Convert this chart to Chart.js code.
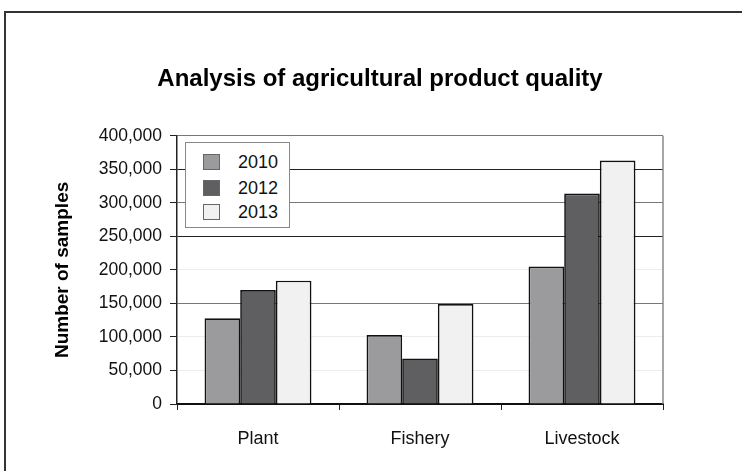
<!DOCTYPE html>
<html>
<head>
<meta charset="utf-8">
<script src="https://cdn.jsdelivr.net/npm/chart.js@4.4.0/dist/chart.umd.min.js"></script>
<style>
body{margin:0;background:#fff;}
#wrap{position:relative;width:742px;height:471px;overflow:hidden;}
#frame{position:absolute;left:4px;top:11px;width:800px;height:520px;border:2px solid #333;}
#legend{position:absolute;left:185px;top:142px;width:105px;height:86px;border:1px solid #888;background:#fff;box-sizing:border-box;font:18px 'Liberation Sans',Arial,sans-serif;color:#111;}
.item{position:absolute;left:17px;height:20px;line-height:20px;white-space:nowrap;}
.sw{position:absolute;left:0;top:2px;width:17px;height:16px;border:1px solid #666;box-sizing:border-box;}
.lbl{position:absolute;left:35px;top:0;}
</style>
</head>
<body>
<div id="wrap">
  <div id="frame"></div>
  <canvas id="myChart" width="742" height="471"></canvas>
  <div id="legend"></div>
</div>
<script>
// valores
var categories = ['Plant', 'Fishery', 'Livestock'];
var years = ['2010', '2012', '2013'];
var values2010 = [128000, 103000, 205000];
var values2012 = [170000, 68000, 314000];
var values2013 = [184000, 149000, 363000];
var yTicks = [0, 50000, 100000, 150000, 200000, 250000, 300000, 350000, 400000];
var colors = ['#9b9b9d', '#5f5f62', '#f1f1f1'];

var fonte = "'Liberation Sans', Arial, sans-serif";

graficoBarras()
montaLegenda()

function graficoBarras(){

const rightBorder = {
  id: 'rightBorder',
  beforeDatasetsDraw(chart) {
    const a = chart.chartArea;
    const ctx = chart.ctx;
    ctx.save();
    ctx.strokeStyle = '#888';
    ctx.lineWidth = 1.5;
    ctx.beginPath();
    ctx.moveTo(a.right, a.top);
    ctx.lineTo(a.right, a.bottom);
    ctx.stroke();
    ctx.restore();
  }
};

const ctx = document.getElementById('myChart').getContext('2d');
const myChart = new Chart(ctx, {
    type: 'bar',
    data: {
        labels: categories,
        datasets: [
            { label: years[0], data: values2010, backgroundColor: colors[0] },
            { label: years[1], data: values2012, backgroundColor: colors[1] },
            { label: years[2], data: values2013, backgroundColor: colors[2] }
        ]
    },
    plugins: [rightBorder],
    options: {
        responsive: false,
        animation: false,
        layout: { padding: { left: 18, right: 0, top: 0, bottom: 0 } },
        datasets: {
            bar: {
                barPercentage: 1,
                categoryPercentage: 0.66,
                borderColor: '#111',
                borderWidth: 1.7
            }
        },
        plugins: {
            legend: { display: false },
            tooltip: { enabled: false },
            title: {
                display: true,
                text: 'Analysis of agricultural product quality',
                color: '#000',
                font: { family: fonte, size: 24, weight: 'bold' },
                padding: { top: 65, bottom: 42 }
            }
        },
        scales: {
            x: {
                grid: { drawOnChartArea: false, tickLength: 6, tickColor: '#222' },
                border: { color: '#111', width: 2 },
                ticks: { color: '#111', padding: 18, font: { family: fonte, size: 18 } },
                afterFit: function(s){ s.height = 67; }
            },
            y: {
                min: 0,
                max: 400000,
                afterBuildTicks: function(s){ s.ticks = yTicks.map(function(v){ return { value: v }; }); },
                grid: {
                    tickLength: 7,
                    tickColor: '#222',
                    lineWidth: 1,
                    color: function(c){
                        var v = c.tick ? c.tick.value : 0;
                        if (v === 350000 || v === 250000) return '#222';
                        if (v === 300000 || v === 150000 || v === 400000) return '#777';
                        return '#ececec';
                    }
                },
                border: { color: '#222', width: 1.5 },
                ticks: {
                    color: '#111',
                    padding: 8,
                    font: { family: fonte, size: 17.5 },
                    callback: function(v){ return v.toLocaleString('en-US'); }
                },
                title: {
                    display: true,
                    text: 'Number of samples',
                    color: '#000',
                    font: { family: fonte, size: 19, weight: 'bold' },
                    padding: { top: 33, bottom: 0 }
                },
                afterFit: function(s){ s.width = 159; }
            },
            yr: {
                position: 'right',
                display: true,
                grid: { display: false },
                border: { display: false },
                ticks: { display: false },
                afterFit: function(s){ s.width = 79; }
            }
        }
    }
});

}

function montaLegenda(){
  var box = document.getElementById('legend');
  var tops = [9, 35, 59];
  for (var i = 0; i < years.length; i++) {
    var it = document.createElement('div');
    it.className = 'item';
    it.style.top = tops[i] + 'px';
    it.innerHTML = '<span class="sw" style="background:' + colors[i] + '"></span><span class="lbl">' + years[i] + '</span>';
    box.appendChild(it);
  }
}
</script>
</body>
</html>
